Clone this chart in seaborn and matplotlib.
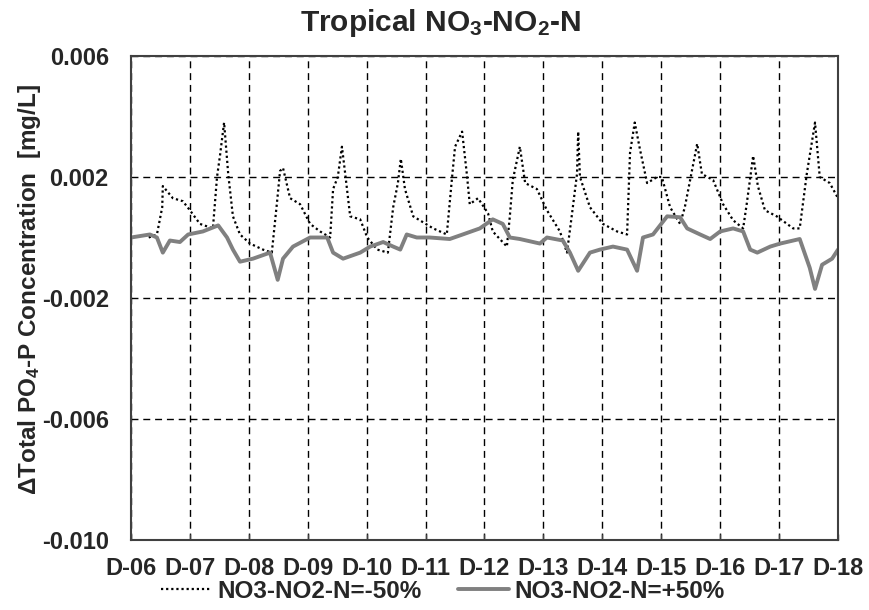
import numpy as np
import pandas as pd
import matplotlib
matplotlib.use("Agg")
import matplotlib.pyplot as plt
import seaborn as sns

# ---------------- data (day offset from D-06, value in mg/L) ----------------
day_labels = ["D-06", "D-07", "D-08", "D-09", "D-10", "D-11", "D-12",
              "D-13", "D-14", "D-15", "D-16", "D-17", "D-18"]

minus50_days = [0.30, 0.44, 0.53, 0.54, 0.71, 0.88, 1.00, 1.17, 1.39, 1.46, 1.51, 1.58,
                1.65, 1.73, 1.85, 2.02, 2.24, 2.39, 2.48, 2.53, 2.58, 2.70, 2.87,
                3.04, 3.21, 3.38, 3.43, 3.51, 3.58, 3.63, 3.72, 3.89, 4.01, 4.18,
                4.36, 4.45, 4.53, 4.58, 4.65, 4.79, 4.96, 5.13, 5.36, 5.45, 5.50,
                5.62, 5.70, 5.75, 5.89, 6.06, 6.14, 6.38, 6.43, 6.48, 6.60, 6.69,
                6.89, 7.06, 7.28, 7.40, 7.48, 7.57, 7.59, 7.62, 7.79, 8.01, 8.25,
                8.42, 8.47, 8.55, 8.64, 8.76, 8.93, 9.01, 9.15, 9.32, 9.40, 9.49,
                9.61, 9.69, 9.88, 10.05, 10.22, 10.39, 10.45, 10.56, 10.64, 10.76,
                10.96, 11.24, 11.35, 11.47, 11.61, 11.69, 11.86, 12.00]
minus50_vals = [0.0000, 0.0001, 0.0010, 0.0017, 0.0013, 0.0012, 0.0009, 0.00045, 0.0003,
                0.0020, 0.0027, 0.0038, 0.0021, 0.0007, 0.0001, -0.0002, -0.0004,
                -0.0005, 0.0012, 0.0022, 0.0023, 0.0013, 0.0011, 0.00045, 0.0002,
                0.0000, 0.0016, 0.0020, 0.0030, 0.0022, 0.0007, 0.0006, 0.0000,
                -0.0004, -0.0005, 0.0010, 0.0018, 0.0026, 0.0016, 0.0007, 0.0005,
                0.0003, 0.0001, 0.0020, 0.0030, 0.0035, 0.0021, 0.0011, 0.0013,
                0.0008, 0.0002, -0.0003, 0.0007, 0.0019, 0.0030, 0.0018, 0.0016,
                0.0009, 0.0002, -0.0005, 0.0007, 0.0021, 0.0035, 0.0020, 0.0010,
                0.00045, 0.0002, 0.0001, 0.0028, 0.0038, 0.0029, 0.0018, 0.0020,
                0.0020, 0.0010, 0.00045, 0.0010, 0.0019, 0.0031, 0.0021, 0.0019,
                0.0011, 0.00057, 0.0003, 0.0011, 0.0027, 0.0017, 0.0009, 0.0007,
                0.0003, 0.0003, 0.0021, 0.0038, 0.0020, 0.0018, 0.0013]

plus50_days = [0.00, 0.32, 0.44, 0.54, 0.66, 0.83, 0.97, 1.22, 1.48, 1.63, 1.73, 1.85,
               2.07, 2.36, 2.49, 2.58, 2.75, 3.04, 3.33, 3.43, 3.60, 3.89, 4.06,
               4.28, 4.45, 4.57, 4.68, 4.85, 5.07, 5.41, 5.63, 5.92, 6.14, 6.31,
               6.43, 6.60, 6.94, 7.06, 7.33, 7.45, 7.59, 7.79, 7.96, 8.18, 8.42,
               8.59, 8.69, 8.86, 9.10, 9.32, 9.44, 9.66, 9.83, 10.00, 10.22, 10.39,
               10.51, 10.63, 10.85, 11.02, 11.35, 11.52, 11.61, 11.73, 11.90, 12.00]
plus50_vals = [0.0000, 0.0001, 0.0000, -0.0005, -0.0001, -0.00015, 0.0001, 0.0002,
               0.0004, 0.0000, -0.0004, -0.0008, -0.0007, -0.0005, -0.0014, -0.0007,
               -0.0003, 0.0000, 0.0000, -0.0005, -0.0007, -0.0005, -0.0003, -0.00015,
               -0.0003, -0.0004, 0.0001, 0.0000, 0.0000, -0.00005, 0.0001, 0.0003,
               0.0006, 0.00045, 0.0000, -0.00005, -0.0002, 0.0000, -0.0001, -0.0005,
               -0.0011, -0.0005, -0.0004, -0.0003, -0.0004, -0.0011, 0.0000, 0.0001,
               0.0007, 0.00067, 0.0003, 0.0001, -0.00005, 0.0002, 0.0003, 0.0002,
               -0.0004, -0.0005, -0.0003, -0.0002, -0.00005, -0.0010, -0.0017,
               -0.0009, -0.0007, -0.0004]

series_names = ["NO3-NO2-N=-50%", "NO3-NO2-N=+50%"]
y_ticks = [0.006, 0.002, -0.002, -0.006, -0.010]
y_tick_labels = ["0.006", "0.002", "-0.002", "-0.006", "-0.010"]

# ---------------- style ----------------
sns.set_theme(style="white")
plt.rcParams["font.family"] = ["Liberation Sans", "DejaVu Sans"]
plt.rcParams["font.weight"] = "bold"
plt.rcParams["mathtext.fontset"] = "custom"
plt.rcParams["mathtext.rm"] = "Liberation Sans:bold"
plt.rcParams["mathtext.bf"] = "Liberation Sans:bold"
plt.rcParams["mathtext.it"] = "Liberation Sans:bold"
plt.rcParams["mathtext.default"] = "bf"

fig = plt.figure(figsize=(8.7, 6.1), dpi=100)
ax = fig.add_axes([131 / 870, 1 - 540 / 610, (838 - 131) / 870, (540 - 56) / 610])

df1 = pd.DataFrame({"day": minus50_days, "value": minus50_vals})
df2 = pd.DataFrame({"day": plus50_days, "value": plus50_vals})

sns.lineplot(data=df1, x="day", y="value", ax=ax, color="black", linewidth=1.6,
             linestyle=(0, (1, 1.3)), label=series_names[0], sort=False)
sns.lineplot(data=df2, x="day", y="value", ax=ax, color="#808080", linewidth=2.8,
             label=series_names[1], sort=False)

ax.set_xlim(0, 12)
ax.set_ylim(-0.010, 0.006)
ax.set_xticks(range(len(day_labels)))
ax.set_xticklabels(day_labels)
ax.set_yticks(y_ticks)
ax.set_yticklabels(y_tick_labels)
ax.tick_params(axis="y", labelsize=17, length=0, pad=16)
ax.tick_params(axis="x", labelsize=17, direction="in", length=4, width=1,
               color="#404040", pad=12, bottom=True)
for lab in ax.get_xticklabels() + ax.get_yticklabels():
    lab.set_fontweight("bold")

ax.grid(True, color="black", linestyle=(0, (5, 3.5)), linewidth=1.0)
for s in ax.spines.values():
    s.set_color("#404040")
    s.set_linewidth(1.5)

ax.set_xlabel("")
ax.set_ylabel(r"$\Delta$Total PO$_4$-P Concentration  [mg/L]", fontsize=17.5,
              fontweight="bold")
ax.yaxis.set_label_coords(-0.124, 0.517)

fig.text(0.506, 0.963, r"Tropical NO$_3$-NO$_2$-N", ha="center", va="center",
         fontsize=21.5, fontweight="bold")

handles, labels = ax.get_legend_handles_labels()
ax.get_legend().remove()
leg = fig.legend(handles, labels, loc="center", bbox_to_anchor=(0.509, 0.031),
                 ncol=2, frameon=False, fontsize=17.5, handlelength=2.1,
                 columnspacing=1.5, handletextpad=0.2, borderpad=0)
for t in leg.get_texts():
    t.set_fontweight("bold")

fig.savefig("out.png", dpi=100)
